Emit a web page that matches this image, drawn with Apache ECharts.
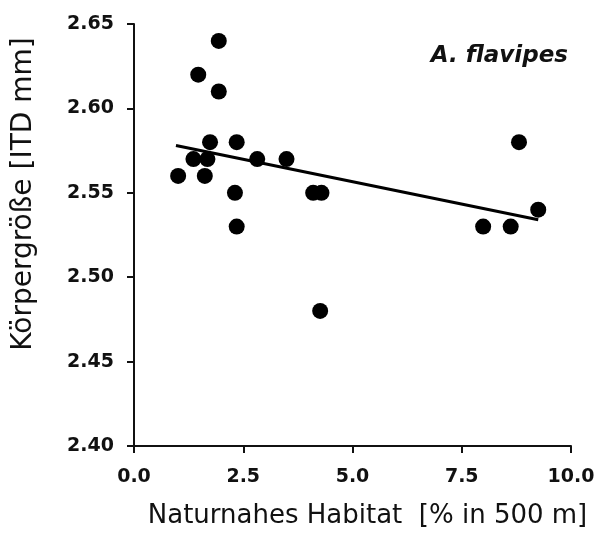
<!DOCTYPE html>
<html><head><meta charset="utf-8">
<script src="https://cdn.jsdelivr.net/npm/echarts@6/dist/echarts.min.js"></script>
<style>html,body{margin:0;padding:0;background:#fff}#c{width:606px;height:541px}</style>
</head><body><div id="c"></div>
<script>
var habitat = [1.94, 1.47, 1.94, 1.74, 2.35, 8.81, 1.36, 1.68, 2.82, 3.49, 1.01, 1.62, 2.31, 4.10, 4.29, 2.35, 7.99, 8.62, 9.25, 4.26];
var size    = [2.64, 2.62, 2.61, 2.58, 2.58, 2.58, 2.57, 2.57, 2.57, 2.57, 2.56, 2.56, 2.55, 2.55, 2.55, 2.53, 2.53, 2.53, 2.54, 2.48];
var fitX = [0.96, 9.25];
var fitY = [2.578, 2.534];
var xTicks = [0, 2.5, 5, 7.5, 10];
var yTicks = [2.40, 2.45, 2.50, 2.55, 2.60, 2.65];

var pts = habitat.map(function(x, i){ return [x, size[i]]; });
var fit = fitX.map(function(x, i){ return [x, fitY[i]]; });

var chart = echarts.init(document.getElementById('c'));
var tickFont = {fontFamily: 'DejaVu Sans', fontWeight: 'bold', fontSize: 19, color: '#111'};
chart.setOption({
  animation: false,
  backgroundColor: '#fff',
  title: {
    text: 'A. flavipes', right: 33, top: 40,
    textStyle: {fontFamily: 'DejaVu Sans', fontStyle: 'italic', fontWeight: 'bold', fontSize: 23, color: '#111'}
  },
  grid: {left: 134, right: 35, top: 24, bottom: 95},
  xAxis: {
    type: 'value', min: xTicks[0], max: xTicks[xTicks.length-1], interval: 2.5,
    name: 'Naturnahes Habitat  [% in 500 m]', nameLocation: 'middle', nameGap: 57,
    nameTextStyle: {fontFamily: 'DejaVu Sans', fontSize: 26, color: '#111', padding: [0, 0, 0, 30]},
    axisLine: {lineStyle: {color: '#111', width: 2}},
    axisTick: {show: true, inside: false, length: 7, lineStyle: {color: '#111', width: 2}},
    axisLabel: Object.assign({margin: 22, formatter: function(v){ return v.toFixed(1); }}, tickFont),
    splitLine: {show: false}
  },
  yAxis: {
    type: 'value', min: yTicks[0], max: yTicks[yTicks.length-1], interval: 0.05,
    name: 'Körpergröße [ITD mm]', nameLocation: 'middle', nameGap: 96,
    nameTextStyle: {fontFamily: 'DejaVu Sans', fontSize: 28, color: '#111', padding: [0, 0, 0, 82]},
    axisLine: {show: true, lineStyle: {color: '#111', width: 2}},
    axisTick: {show: true, inside: false, length: 7, lineStyle: {color: '#111', width: 2}},
    axisLabel: Object.assign({margin: 20, formatter: function(v){ return v.toFixed(2); }}, tickFont),
    splitLine: {show: false}
  },
  series: [
    {type: 'line', data: fit, showSymbol: false, symbol: 'none', lineStyle: {color: '#000', width: 3}, z: 1},
    {type: 'scatter', data: pts, symbol: 'circle', symbolSize: 16, itemStyle: {color: '#000', opacity: 1}, z: 2}
  ]
});
</script></body></html>
